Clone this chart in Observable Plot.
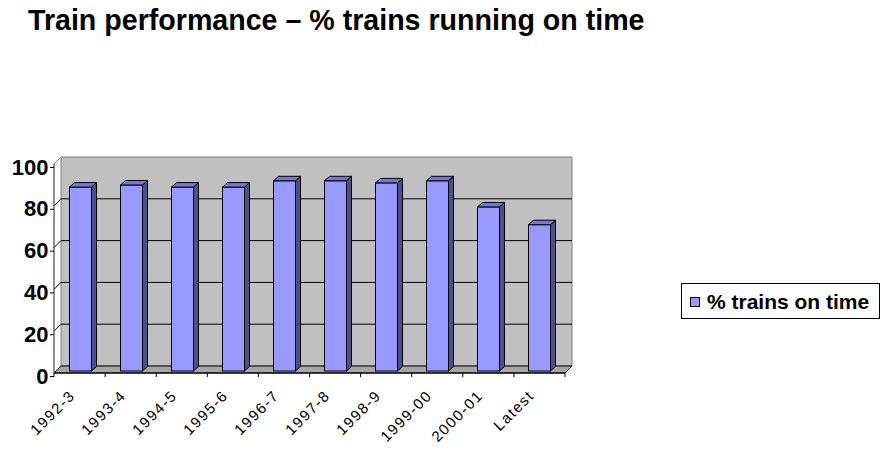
<!DOCTYPE html>
<html><head><meta charset="utf-8">
<script src="https://cdn.jsdelivr.net/npm/d3@7"></script>
<script src="https://cdn.jsdelivr.net/npm/@observablehq/plot@0.6"></script>
<style>
body{margin:0;background:#fff;}
#wrap{position:relative;width:881px;height:452px;overflow:hidden;background:#fff}
#title{height:44px;box-sizing:border-box;padding:6px 0 0 28px;font:bold 28.6px/28px Arial,"Liberation Sans",sans-serif;white-space:nowrap;color:#000}
#legend{position:absolute;left:681px;top:283px;width:199px;height:36px;box-sizing:border-box;border:1px solid #000;background:#fff}
#legend .sw{position:absolute;left:8px;top:13px;width:10px;height:10px;box-sizing:border-box;background:#9999ff;border:1px solid #000}
#legend .lb{position:absolute;left:25px;top:8px;font:bold 21px/20px Arial,"Liberation Sans",sans-serif;white-space:nowrap;color:#000}
svg{display:block;font-family:Arial,"Liberation Sans",sans-serif}
g[aria-label="text"] text{letter-spacing:1.5px}
</style>
</head><body>
<div id="wrap">
  <div id="title"></div>
  <div id="chart"></div>
  <div id="legend"><div class="sw"></div><div class="lb"></div></div>
</div>
<script>
const titleText = "Train performance – % trains running on time";
const seriesName = "% trains on time";
const categories = ["1992-3","1993-4","1994-5","1995-6","1996-7","1997-8","1998-9","1999-00","2000-01","Latest"];
const onTime = [88, 89, 88, 88, 91, 91, 90, 91, 78.5, 70];
const yTicks = [0, 20, 40, 60, 80, 100];

document.getElementById("title").textContent = titleText;
document.querySelector("#legend .lb").textContent = seriesName;

const data = categories.map((c, i) => ({cat: c, val: onTime[i]}));

const WALL = {dx: 7, dy: -7};
const BAR = {dx: 5, dy: -4.5, lift: -2, inset: 14.5};
const COL = {front: "#9999ff", top: "#7575dc", side: "#4f4f88", wall: "#c0c0c0", floor: "#a6a6a6"};

function poly(g, pts, fill, stroke) {
  g.append("polygon").attr("points", pts.map(p => p.join(",")).join(" "))
    .attr("fill", fill).attr("stroke", stroke).attr("stroke-width", 1).attr("stroke-linejoin", "round");
}
function path(g, pts, stroke) {
  g.append("polyline").attr("points", pts.map(p => p.join(",")).join(" "))
    .attr("fill", "none").attr("stroke", stroke).attr("stroke-width", 1);
}

// back wall, side-wall gridlines, floor, axis lines
function scene(index, scales, values, dims) {
  const {x, y} = scales;
  const g = d3.create("svg:g");
  const x0 = dims.marginLeft, x1 = dims.width - dims.marginRight;
  const yb = y(0), yt = y(100);
  const {dx, dy} = WALL;
  poly(g, [[x0+dx, yt+dy], [x1+dx, yt+dy], [x1+dx, yb+dy], [x0+dx, yb+dy]], COL.wall, "#808080");
  for (const v of yTicks) {
    if (v === 0 || v === 100) continue;
    path(g, [[x0, y(v)], [x0+dx, y(v)+dy], [x1+dx, y(v)+dy]], "#000");
  }
  path(g, [[x0, yt], [x0+dx, yt+dy]], "#808080");
  poly(g, [[x0, yb], [x1, yb], [x1+dx, yb+dy], [x0+dx, yb+dy]], COL.floor, "#000");
  // front axes
  path(g, [[x0, yt], [x0, yb]], "#222");
  path(g, [[x0, yb], [x1, yb]], "#000");
  const n = x.domain().length;
  const bw = (x1 - x0) / n;
  for (let k = 0; k <= n; k++) path(g, [[x0 + k*bw, yb], [x0 + k*bw, yb + 4]], "#000");
  return g.node();
}

// top and side faces of each bar
function barFaces(index, scales, values, dims) {
  const {x, y} = scales;
  const g = d3.create("svg:g");
  const bw = typeof x.bandwidth === "function" ? x.bandwidth() : (dims.width - dims.marginLeft - dims.marginRight) / categories.length;
  for (const d of data) {
    const l = x(d.cat) + BAR.inset, r = x(d.cat) + bw - BAR.inset;
    const t = y(d.val) + BAR.lift, b = y(0) + BAR.lift;
    poly(g, [[r, t], [r+BAR.dx, t+BAR.dy], [r+BAR.dx, b+BAR.dy], [r, b]], COL.side, "#000");
    poly(g, [[l, t], [l+BAR.dx, t+BAR.dy], [r+BAR.dx, t+BAR.dy], [r, t]], COL.top, "#000");
  }
  return g.node();
}

const plot = Plot.plot({
  width: 881,
  height: 408,
  marginTop: 120,
  marginBottom: 79,
  marginLeft: 54,
  marginRight: 316,
  x: {type: "band", domain: categories, padding: 0, axis: null},
  y: {domain: [0, 100], axis: null},
  marks: [
    scene,
    Plot.barY(data, {x: "cat", y: "val", fill: COL.front, stroke: "#000", strokeWidth: 1,
      insetLeft: BAR.inset, insetRight: BAR.inset, dy: BAR.lift}),
    barFaces,
    Plot.axisY(yTicks, {tickSize: 4, tickPadding: 2, fontSize: 22, fontWeight: "bold", label: null, textStroke: "none", dy: 3}),
    Plot.text(data, {x: "cat", text: "cat", frameAnchor: "bottom", rotate: -45, textAnchor: "end",
      dx: -5, dy: 23, fontSize: 15, fill: "#000"})
  ]
});
document.getElementById("chart").appendChild(plot);
d3.select(plot).selectAll('g[aria-label="y-axis tick label"] text').attr("font-weight", "bold");
</script>
</body></html>
